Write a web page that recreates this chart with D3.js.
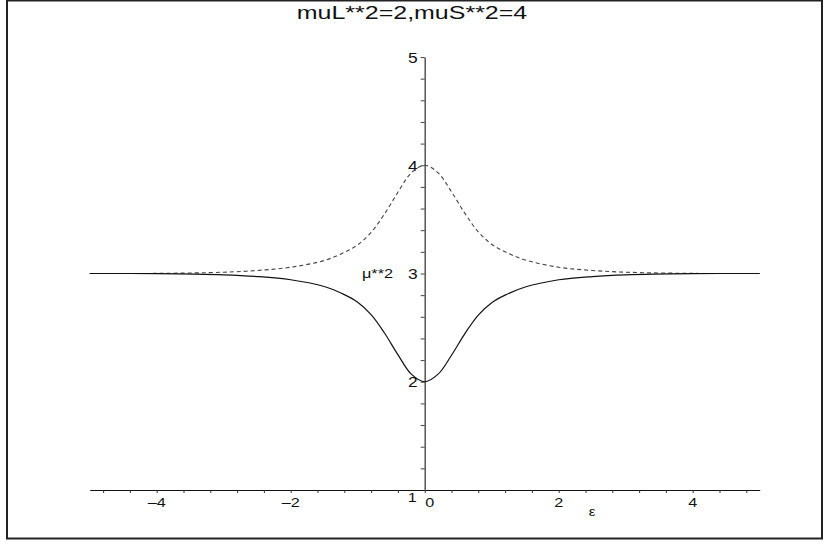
<!DOCTYPE html>
<html lang="en">
<head>
  <meta charset="UTF-8">
  <script src="https://d3js.org/d3.v7.min.js"></script>
  <style>
    body { margin: 0; background: #fff; font-family: 'Liberation Sans', Arial, sans-serif; }
    .curve { fill: none; }
  </style>
</head>
<body>
<script>
  // values
  const eps   = [-5, -4, -3, -2.5, -2, -1.5, -1.2, -1, -0.8, -0.6, -0.4, -0.2, 0, 0.2, 0.4, 0.6, 0.8, 1, 1.2, 1.5, 2, 2.5, 3, 4, 5];
  const upper = [3.0, 3.001, 3.012, 3.028, 3.058, 3.12, 3.195, 3.265, 3.38, 3.55, 3.75, 3.93, 4.0, 3.93, 3.755, 3.555, 3.385, 3.27, 3.2, 3.125, 3.058, 3.028, 3.012, 3.001, 3.0];
  const lower = [3.0, 2.999, 2.988, 2.972, 2.942, 2.88, 2.805, 2.735, 2.62, 2.45, 2.25, 2.07, 2.0, 2.07, 2.245, 2.445, 2.615, 2.73, 2.8, 2.875, 2.942, 2.972, 2.988, 2.999, 3.0];
  const xTicks = [-4, -2, 0, 2, 4];
  const yTicks = [1, 2, 3, 4, 5];
  const title = "muL**2=2,muS**2=4";

  const W = 832, H = 548;
  const svg = d3.select("body").append("svg")
    .attr("width", W)
    .attr("height", H);

  // the original plot is stretched sideways, text too
  const label = (px, py, txt, size, sx, anchor) => svg.append("text")
    .attr("transform", `translate(${px},${py}) scale(${sx},1)`)
    .attr("text-anchor", anchor || "start")
    .style("font-size", size + "px")
    .attr("fill", "#111")
    .text(txt);

  // frame
  svg.append("rect")
    .attr("x", 7).attr("y", 0.5)
    .attr("width", 815).attr("height", 538)
    .attr("fill", "none")
    .attr("stroke", "#222")
    .attr("stroke-width", 2);

  const x = d3.scaleLinear().domain([-5, 5]).range([89.7, 759.7]);
  const y = d3.scaleLinear().domain([1, 5]).range([490, 57]);

  // x axis (horizontal at y = 1)
  const xMinor = d3.range(-4.8, 4.81, 0.4);
  const xAxis = svg.append("g")
    .attr("transform", `translate(0,${y(1)})`)
    .call(d3.axisBottom(x).tickValues(xMinor).tickSize(3).tickSizeOuter(0).tickFormat(""));
  xAxis.select(".domain").attr("stroke", "#111").attr("stroke-width", 1.2);
  xAxis.selectAll(".tick line").attr("stroke", "#333");

  xTicks.forEach(d => {
    const txt = d < 0 ? "\u2013" + Math.abs(d) : String(d);
    if (d === 0) label(x(d) + 0.5, 507, txt, 13.5, 1.2, "start");
    else label(x(d), 507, txt, 13.5, 1.2, "middle");
  });

  // y axis (vertical at eps = 0)
  const yMinor = d3.range(1.2, 5.01, 0.2);
  const yAxis = svg.append("g")
    .attr("transform", `translate(${x(0)},0)`)
    .call(d3.axisLeft(y).tickValues(yMinor).tickSize(4).tickSizeOuter(0).tickFormat(""));
  yAxis.select(".domain").attr("stroke", "#555").attr("stroke-width", 1.5);
  yAxis.selectAll(".tick line").attr("stroke", "#444");

  yTicks.forEach(d => {
    if (d === 1) label(x(0) - 8, 502, String(d), 13.5, 1.2, "end");
    else label(x(0) - 7, y(d) + 5.5, String(d), 14.5, 1.2, "end");
  });

  // curves
  const line = vals => d3.line()
    .x((d, i) => x(eps[i]))
    .y(d => y(d))
    .curve(d3.curveCatmullRom.alpha(0.5))(vals);

  svg.append("path")
    .attr("class", "curve")
    .attr("d", line(upper))
    .attr("stroke", "#444")
    .attr("stroke-width", 1.1)
    .attr("stroke-dasharray", "4,3");

  svg.append("path")
    .attr("class", "curve")
    .attr("d", line(lower))
    .attr("stroke", "#111")
    .attr("stroke-width", 1.2);

  // axis names
  label(362, 277.5, "\u03bc**2", 13, 1.25, "start");
  label(592, 516, "\u03b5", 12.5, 1.2, "middle");

  // title
  label(412, 18.5, title, 18.5, 1.35, "middle");
</script>
</body>
</html>
